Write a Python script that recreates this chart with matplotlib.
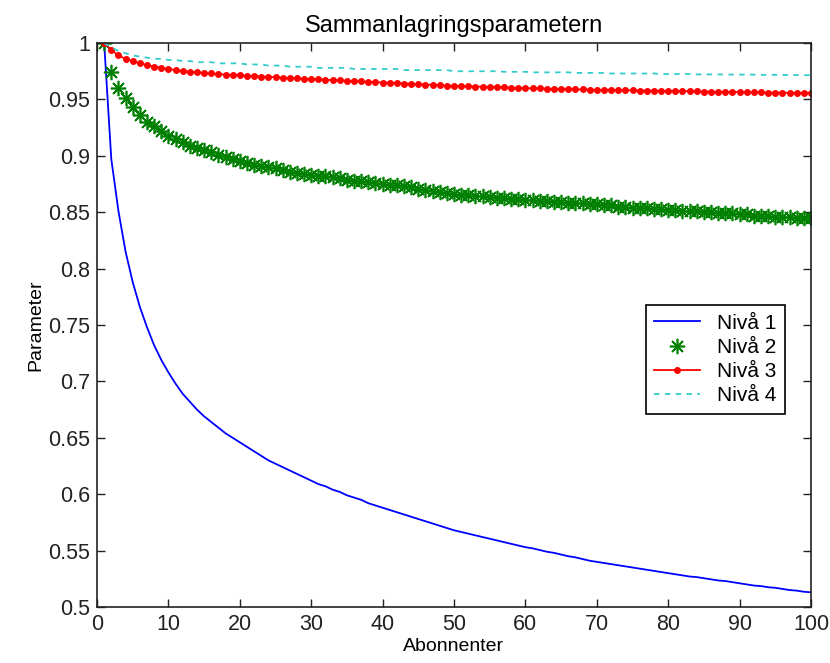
import matplotlib.pyplot as plt

# abonnenter 1..100
abonnenter = list(range(1, 101))

# Nivå 1 (blue line)
niva1 = [1.000, 0.897, 0.851, 0.815, 0.788, 0.766, 0.748, 0.732, 0.719, 0.708,
         0.698, 0.689, 0.682, 0.675, 0.669, 0.664, 0.659, 0.654, 0.650, 0.646,
         0.642, 0.638, 0.634, 0.630, 0.627, 0.624, 0.621, 0.618, 0.615, 0.612,
         0.609, 0.607, 0.604, 0.602, 0.599, 0.597, 0.595, 0.592, 0.590, 0.588,
         0.586, 0.584, 0.582, 0.580, 0.578, 0.576, 0.574, 0.572, 0.570, 0.568,
         0.5665, 0.565, 0.5635, 0.562, 0.5605, 0.559, 0.5575, 0.556, 0.5545, 0.553,
         0.552, 0.5505, 0.549, 0.548, 0.5465, 0.545, 0.544, 0.5425, 0.541, 0.540,
         0.539, 0.538, 0.537, 0.536, 0.535, 0.534, 0.533, 0.532, 0.531, 0.530,
         0.529, 0.528, 0.527, 0.5265, 0.5255, 0.5245, 0.5235, 0.523, 0.522, 0.521,
         0.520, 0.519, 0.5185, 0.5175, 0.517, 0.516, 0.515, 0.5145, 0.5135, 0.513]

# Nivå 2 (green stars)
niva2 = [1.000, 0.974, 0.960, 0.951, 0.943, 0.936, 0.930, 0.926, 0.922, 0.918,
         0.915, 0.912, 0.909, 0.907, 0.905, 0.903, 0.901, 0.899, 0.897, 0.895,
         0.894, 0.892, 0.891, 0.890, 0.889, 0.887, 0.886, 0.885, 0.884, 0.883,
         0.882, 0.882, 0.881, 0.880, 0.879, 0.878, 0.878, 0.877, 0.876, 0.875,
         0.8745, 0.874, 0.873, 0.872, 0.871, 0.870, 0.869, 0.868, 0.867, 0.866,
         0.8655, 0.865, 0.8645, 0.864, 0.8635, 0.863, 0.8625, 0.862, 0.8615, 0.861,
         0.861, 0.860, 0.860, 0.859, 0.859, 0.858, 0.858, 0.858, 0.857, 0.857,
         0.856, 0.856, 0.855, 0.855, 0.854, 0.854, 0.854, 0.853, 0.853, 0.852,
         0.852, 0.851, 0.851, 0.851, 0.850, 0.850, 0.849, 0.849, 0.849, 0.848,
         0.848, 0.847, 0.847, 0.847, 0.846, 0.846, 0.846, 0.845, 0.845, 0.845]

# Nivå 3 (red dots)
niva3 = [1.000, 0.994, 0.989, 0.986, 0.984, 0.982, 0.9805, 0.979, 0.978, 0.977,
         0.976, 0.975, 0.9745, 0.974, 0.9735, 0.973, 0.9725, 0.972, 0.9717, 0.9714,
         0.971, 0.9707, 0.9703, 0.970, 0.9697, 0.9693, 0.969, 0.9687, 0.9683, 0.968,
         0.9677, 0.9674, 0.9671, 0.9668, 0.9665, 0.9662, 0.9659, 0.9656, 0.9653, 0.965,
         0.9647, 0.9644, 0.9641, 0.9638, 0.9635, 0.9632, 0.9629, 0.9626, 0.9623, 0.962,
         0.9618, 0.9616, 0.9614, 0.9612, 0.961, 0.9608, 0.9606, 0.9604, 0.9602, 0.960,
         0.9598, 0.9597, 0.9595, 0.9594, 0.9592, 0.9591, 0.9589, 0.9588, 0.9586, 0.9585,
         0.9584, 0.9583, 0.9582, 0.9581, 0.958, 0.9579, 0.9578, 0.9577, 0.9576, 0.9575,
         0.9574, 0.9573, 0.9572, 0.9571, 0.957, 0.9569, 0.9568, 0.9567, 0.9566, 0.9565,
         0.9564, 0.9563, 0.9562, 0.9561, 0.956, 0.9559, 0.9558, 0.9557, 0.9556, 0.9555]

# Nivå 4 (cyan dashed)
niva4 = [1.000, 0.996, 0.993, 0.991, 0.989, 0.988, 0.987, 0.986, 0.986, 0.985,
         0.985, 0.984, 0.984, 0.983, 0.983, 0.983, 0.982, 0.982, 0.982, 0.982,
         0.981, 0.981, 0.981, 0.980, 0.980, 0.980, 0.979, 0.979, 0.979, 0.979,
         0.978, 0.978, 0.978, 0.978, 0.978, 0.977, 0.977, 0.977, 0.977, 0.977,
         0.977, 0.977, 0.976, 0.976, 0.976, 0.976, 0.976, 0.976, 0.976, 0.975,
         0.975, 0.975, 0.975, 0.975, 0.975, 0.975, 0.9745, 0.9745, 0.9745, 0.9745,
         0.974, 0.974, 0.974, 0.974, 0.974, 0.974, 0.9735, 0.9735, 0.9735, 0.9735,
         0.9735, 0.973, 0.973, 0.973, 0.973, 0.973, 0.973, 0.973, 0.9725, 0.9725,
         0.9725, 0.9725, 0.9725, 0.9722, 0.9722, 0.9722, 0.9722, 0.972, 0.972, 0.972,
         0.972, 0.972, 0.9718, 0.9718, 0.9718, 0.9716, 0.9716, 0.9716, 0.9715, 0.9715]

xticks = list(range(0, 101, 10))
yticks = [0.5, 0.55, 0.6, 0.65, 0.7, 0.75, 0.8, 0.85, 0.9, 0.95, 1.0]
ytick_labels = ['0.5', '0.55', '0.6', '0.65', '0.7', '0.75', '0.8', '0.85', '0.9', '0.95', '1']

plt.rcParams['font.family'] = ['Liberation Sans', 'DejaVu Sans']

fig = plt.figure(figsize=(8.3, 6.63), dpi=100)
# axes box: 97..811 px across, 43..607 px down
ax = fig.add_axes([0.1169, 0.0845, 0.8602, 0.8506])

ax.plot(abonnenter, niva1, color='#0000ff', lw=1.3, label='Nivå 1')
ax.plot(abonnenter, niva2, color='#008000', ls='none', marker=(8, 2, 0),
        markersize=11, markeredgewidth=1.2, label='Nivå 2')
ax.plot(abonnenter, niva3, color='#ff0000', lw=1.3, marker='.', markersize=8, label='Nivå 3')
ax.plot(abonnenter, niva4, color='#33cccc', lw=1.3, ls=(0, (3, 3)), label='Nivå 4')

ax.set_xlim(0, 100)
ax.set_ylim(0.5, 1.0)
ax.set_xticks(xticks)
ax.set_yticks(yticks)
ax.set_yticklabels(ytick_labels)
ax.tick_params(direction='in', length=6, width=1, top=True, right=True,
               colors='#222222', labelsize=15.5, pad=5)
for s in ax.spines.values():
    s.set_color('#222222')
    s.set_linewidth(1.2)

ax.set_title('Sammanlagringsparametern', fontsize=17, pad=8)
ax.set_xlabel('Abonnenter', fontsize=14, labelpad=2)
ax.set_ylabel('Parameter', fontsize=14, labelpad=3)

leg = ax.legend(loc='upper left', bbox_to_anchor=(0.769, 0.535), fancybox=False,
                framealpha=1, edgecolor='black', fontsize=15, handlelength=2.2,
                borderaxespad=0, labelspacing=0.25)
leg.get_frame().set_linewidth(1.2)

plt.savefig('out.png', dpi=100)
